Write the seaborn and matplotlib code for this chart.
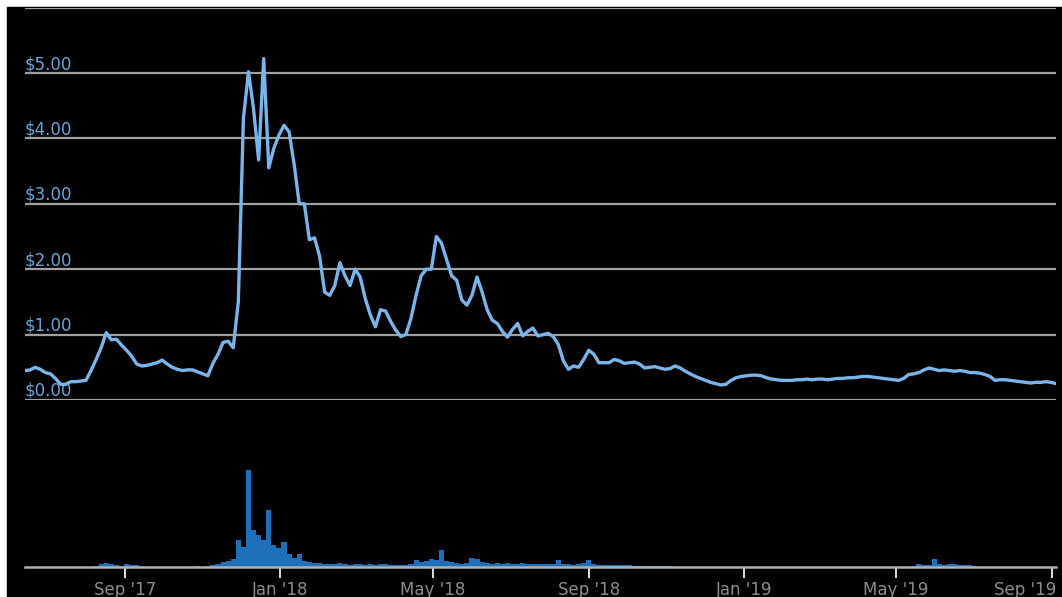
import numpy as np
import pandas as pd
import matplotlib
matplotlib.use('Agg')
import matplotlib.pyplot as plt
import matplotlib.dates as mdates
import matplotlib.transforms as mtransforms
from matplotlib.patches import Rectangle
import seaborn as sns

# === Data (4-day sampling) ===
START_DATE = '2017-06-14'
STEP = '4D'

price = [
    0.45, 0.46, 0.50, 0.47, 0.42, 0.40, 0.33, 0.24, 0.24, 0.28,
    0.28, 0.29, 0.30, 0.45, 0.62, 0.80, 1.03, 0.92, 0.93, 0.84,
    0.76, 0.67, 0.55, 0.52, 0.53, 0.55, 0.57, 0.61, 0.55, 0.50,
    0.47, 0.45, 0.46, 0.46, 0.43, 0.40, 0.37, 0.56, 0.70, 0.88,
    0.90, 0.80, 1.50, 4.30, 5.02, 4.45, 3.67, 5.22, 3.55, 3.85,
    4.05, 4.20, 4.10, 3.60, 3.00, 3.00, 2.45, 2.48, 2.20, 1.65,
    1.60, 1.75, 2.10, 1.90, 1.75, 2.00, 1.88, 1.55, 1.30, 1.12,
    1.38, 1.36, 1.20, 1.07, 0.97, 1.00, 1.25, 1.60, 1.90, 2.00,
    2.00, 2.50, 2.40, 2.15, 1.90, 1.83, 1.53, 1.45, 1.60, 1.88,
    1.65, 1.38, 1.22, 1.17, 1.05, 0.96, 1.08, 1.17, 0.98, 1.05,
    1.10, 0.98, 1.00, 1.02, 0.97, 0.85, 0.60, 0.47, 0.52, 0.50,
    0.62, 0.76, 0.70, 0.57, 0.57, 0.57, 0.62, 0.60, 0.56, 0.57,
    0.58, 0.55, 0.49, 0.50, 0.51, 0.49, 0.47, 0.48, 0.52, 0.49,
    0.44, 0.40, 0.36, 0.33, 0.30, 0.27, 0.25, 0.23, 0.24, 0.30,
    0.34, 0.36, 0.37, 0.38, 0.38, 0.37, 0.34, 0.32, 0.31, 0.30,
    0.30, 0.30, 0.31, 0.31, 0.32, 0.31, 0.32, 0.32, 0.31, 0.32,
    0.33, 0.33, 0.34, 0.34, 0.35, 0.36, 0.36, 0.35, 0.34, 0.33,
    0.32, 0.31, 0.30, 0.33, 0.39, 0.40, 0.42, 0.46, 0.49, 0.47,
    0.45, 0.46, 0.45, 0.44, 0.45, 0.44, 0.42, 0.42, 0.41, 0.39,
    0.36, 0.30, 0.31, 0.31, 0.30, 0.29, 0.28, 0.27, 0.26, 0.27,
    0.27, 0.28, 0.27, 0.25,
]

volume = [
    0, 0, 0, 0, 0, 0, 0, 0, 0, 0,
    0, 0, 0.3, 0.5, 1, 3, 4, 3, 2, 1.5,
    3, 2.5, 2, 1.5, 0.5, 0.2, 0.2, 0.2, 0.2, 0.2,
    0.2, 0.2, 0.2, 0.2, 0.8, 0.3, 1, 2.5, 3, 5,
    6, 8, 27, 20, 97, 37, 32, 27, 57, 22,
    19, 25, 13, 9, 13, 6, 5, 4, 4, 3,
    3, 3, 4, 3, 2, 3, 3, 2, 3, 2,
    3, 3, 2, 2, 2, 2, 3, 7, 5, 6,
    8, 7, 17, 6, 5, 4, 3, 4, 9, 8,
    5, 4, 3, 4, 3, 4, 3, 3, 4, 3,
    3, 3, 3, 3, 3, 7, 3, 3, 2, 3,
    4, 7, 3, 2, 2, 2, 2, 2, 2, 2,
    1, 1, 1, 1, 1, 1, 1, 1, 0.3, 0.3,
    0.3, 0.3, 0.3, 0.3, 0.3, 0.3, 0.3, 0.3, 0.3, 0.3,
    0.3, 0.3, 0.3, 0.3, 0.3, 0.3, 0.3, 0.3, 0.3, 0.3,
    0.3, 0.3, 0.3, 0.3, 0.3, 0.3, 0.3, 0.3, 0.3, 0.3,
    0.3, 0.3, 0.3, 0.3, 0.3, 0.3, 0.3, 0.3, 0.3, 0.3,
    0.3, 0.5, 0.3, 0.3, 0.5, 1, 3, 2, 2.5, 8,
    3, 2.5, 3, 3, 2.5, 2, 2, 1, 0.2, 0.2,
    0.2, 0.2, 0.2, 0.2, 0.2, 0.2, 0.2, 0.2, 0.2, 0.2,
    0.2, 0.2, 0.2, 0.2,
]

price_ticks = [0, 1, 2, 3, 4, 5, 6]
price_labels = ['$0.00', '$1.00', '$2.00', '$3.00', '$4.00', '$5.00', '']

dates = pd.date_range(START_DATE, periods=len(price), freq=STEP)
df = pd.DataFrame({'date': dates, 'price': price, 'volume': volume})

# === Style ===
sns.set_theme(style='dark', rc={
    'axes.facecolor': 'black',
    'figure.facecolor': 'white',
})
plt.rcParams['font.family'] = ['DejaVu Sans']

W, H = 1062, 597
fig = plt.figure(figsize=(W / 100, H / 100), dpi=100)
fig.add_artist(Rectangle((7 / W, 0), 1 - 7 / W, (H - 7) / H,
                         transform=fig.transFigure, color='black', zorder=-10))

x0, x1 = 25 / W, 1056 / W
ax = fig.add_axes([x0, (H - 400) / H, x1 - x0, (400 - 7.6) / H])
axv = fig.add_axes([x0, (H - 567) / H, x1 - x0, 107 / H], sharex=ax)

xlim = (pd.Timestamp('2017-06-14'), pd.Timestamp('2019-09-04'))

# === Price line ===
sns.lineplot(data=df, x='date', y='price', ax=ax, color='#79b4ea', linewidth=2.4)
ax.set_ylim(0, 6)
ax.set_xlim(xlim)
ax.set_yticks(price_ticks)
ax.set_yticklabels([l.replace('$', r'\$') for l in price_labels])
ax.tick_params(axis='y', length=0, pad=0, labelsize=12, labelcolor='#6aa5d6')
for lbl in ax.get_yticklabels():
    lbl.set_ha('left')
    lbl.set_va('bottom')
ax.tick_params(axis='x', bottom=False, labelbottom=False)
ax.yaxis.grid(True, color='#a0a0a0', linewidth=1.6)
ax.xaxis.grid(False)
ax.set_xlabel('')
ax.set_ylabel('')
for s in ax.spines.values():
    s.set_visible(False)
ax.set_facecolor('none')

# === Volume bars ===
axv.bar(df['date'], df['volume'], width=4.0, color='#1f70ba', linewidth=0)
axv.set_ylim(0, 107)
axv.set_xlim(xlim)
axv.set_yticks([])
axv.set_facecolor('none')
for s in ['top', 'left', 'right']:
    axv.spines[s].set_visible(False)
axv.spines['bottom'].set_color('#b0b0b0')
axv.spines['bottom'].set_linewidth(1.8)
axv.xaxis.set_major_locator(mdates.MonthLocator(bymonth=[1, 5, 9]))
axv.xaxis.set_major_formatter(mdates.DateFormatter("%b '%y"))
axv.tick_params(axis='x', bottom=True, length=8, width=1.5, color='#d8d8d8',
                pad=2, labelsize=12, labelcolor='#8c8c8c')
axv.grid(False)

# last label sits flush to the right edge, like the reference
fig.canvas.draw()
last = axv.get_xticklabels()[-1]
last.set_ha('right')
last.set_transform(last.get_transform() +
                   mtransforms.ScaledTranslation(4 / 100, 0, fig.dpi_scale_trans))

fig.savefig('out.png', dpi=100, facecolor='white')
